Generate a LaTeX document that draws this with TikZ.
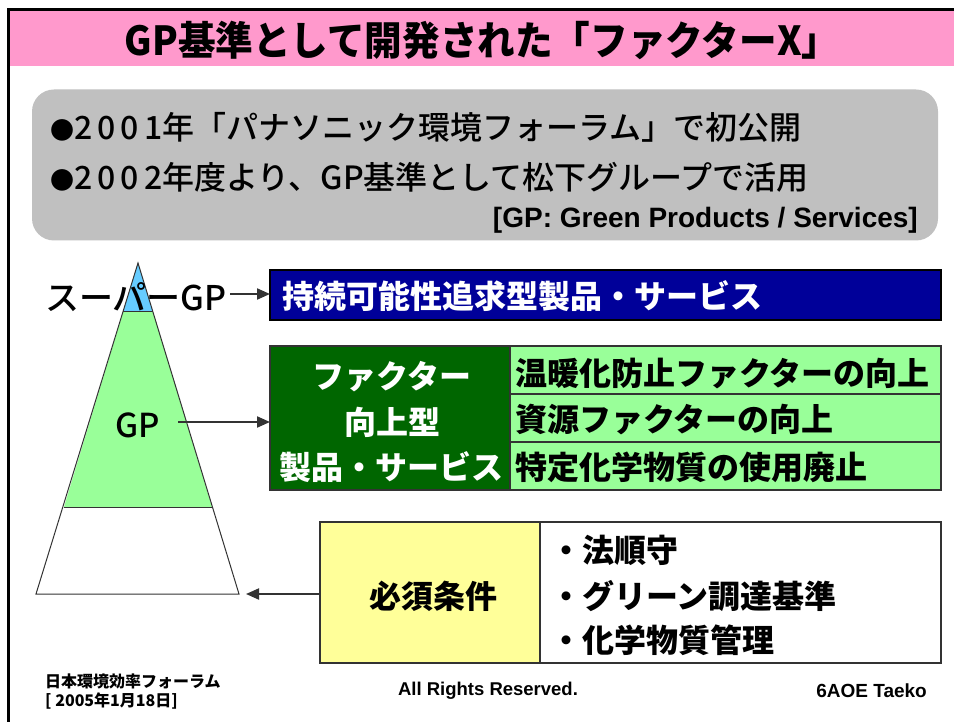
\documentclass[tikz,border=0pt]{standalone}
\usepackage{fontspec}
\setmainfont{Noto Sans CJK JP}
\newfontfamily\lat{Liberation Sans}
\newfontfamily\medjp{Noto Sans CJK JP Medium}
\newfontfamily\wdig[LetterSpace=16]{Noto Sans CJK JP Medium}
\usetikzlibrary{arrows.meta}
\definecolor{pinkbar}{HTML}{FF99CC}
\definecolor{graybox}{HTML}{C0C0C0}
\definecolor{navyfill}{HTML}{000099}
\definecolor{darkgreen}{HTML}{006600}
\definecolor{lightgreen}{HTML}{99FF99}
\definecolor{skyblue}{HTML}{66CCFF}
\definecolor{paleyellow}{HTML}{FFFF99}
\definecolor{edgegray}{HTML}{333333}
\newcommand{\bul}{{\fontsize{24}{24}\selectfont ●}}
\tikzset{
  cell/.style={draw=edgegray, line width=1.3pt, inner sep=0pt, outer sep=0pt},
  bigtxt/.style={font=\bfseries\fontsize{32}{32}\selectfont, inner sep=0pt},
  graytxt/.style={font=\medjp\fontsize{32}{32}\selectfont, inner sep=0pt},
  conn/.style={draw=edgegray, line width=2pt, -{Triangle[length=13pt,width=11pt]}},
  pyr/.style={draw=edgegray, line width=1pt},
}
\begin{document}
\begin{tikzpicture}[x=1pt,y=-1pt]
\useasboundingbox (0,0) rectangle (954,722);
\fill[white] (0,0) rectangle (954,722);
% title bar
\fill[pinkbar] (8,11) rectangle (954,66);
\draw[black, line width=3pt] (8,722) -- (8,10) -- (954,10);
\node[font=\bfseries\fontsize{40}{40}\selectfont, inner sep=0pt, xscale=0.94] (title) at (482,40) {GP基準として開発された「ファクターX」};
% gray box
\node[fill=graybox, rounded corners=22pt, minimum width=906pt, minimum height=151pt, inner sep=0pt] (info) at (485,165) {};
\node[graytxt, anchor=west] (l1) at (50,127) {\bul{\wdig 2001}年「パナソニック環境フォーラム」で初公開};
\node[graytxt, anchor=west] (l2) at (50,177) {\bul{\wdig 2002}年度より、GP基準として松下グループで活用};
\node[font=\lat\bfseries\fontsize{28}{28}\selectfont, inner sep=0pt, anchor=east] (gpdef) at (918,220) {[GP: Green Products / Services]};
% pyramid
\fill[white] (36,594) -- (239,594) -- (212,507) -- (64,507) -- cycle;
\fill[lightgreen] (64,507) -- (212,507) -- (153,312) -- (123,312) -- cycle;
\fill[skyblue] (123,312) -- (153,312) -- (138,263) -- cycle;
\draw[pyr] (36,594) -- (138,263) -- (239,594) -- cycle;
\draw[pyr] (64,507) -- (212,507);
\draw[pyr] (123,312) -- (153,312);
\coordinate (base) at (246,594);
% super GP
\node[font=\medjp\fontsize{34}{34}\selectfont, inner sep=0pt, anchor=east] (sgp) at (227,297) {スーパーGP};
\node[cell, draw=black, fill=navyfill, minimum width=671pt, minimum height=50pt] (blue) at (605.5,295) {};
\node[bigtxt, text=white, anchor=west] (bluetxt) at (282,296) {持続可能性追求型製品・サービス};
\coordinate (sgpstart) at (230,294);
\draw[conn] (sgpstart) -- (blue.west |- sgpstart);
% GP table
\node[cell, fill=darkgreen, minimum width=240pt, minimum height=144pt] (fac) at (390,418) {};
\node[cell, fill=lightgreen, minimum width=431pt, minimum height=48pt] (r1) at (725.5,370) {};
\node[cell, fill=lightgreen, minimum width=431pt, minimum height=48pt] (r2) at (725.5,418) {};
\node[cell, fill=lightgreen, minimum width=431pt, minimum height=48pt] (r3) at (725.5,466) {};
\node[bigtxt, text=white] (f1) at (392,377) {ファクター};
\node[bigtxt, text=white] (f2) at (392,422) {向上型};
\node[bigtxt, text=white] (f3) at (391,467) {製品・サービス};
\node[bigtxt, anchor=west] (t1) at (515,374) {温暖化防止ファクターの向上};
\node[bigtxt, anchor=west] (t2) at (515,420) {資源ファクターの向上};
\node[bigtxt, anchor=west] (t3) at (515,467) {特定化学物質の使用廃止};
\node[font=\medjp\fontsize{33}{33}\selectfont, inner sep=0pt] (gp) at (138,425) {GP};
\coordinate (gpstart) at (178,422);
\draw[conn] (gpstart) -- (fac.west |- gpstart);
% requirements
\node[cell, fill=paleyellow, minimum width=220pt, minimum height=141pt] (req) at (430,592.5) {};
\node[cell, fill=white, minimum width=401pt, minimum height=141pt] (reql) at (740.5,592.5) {};
\node[bigtxt] (reqt) at (433,596) {必須条件};
\node[bigtxt, anchor=west] (q1) at (550,550) {・法順守};
\node[bigtxt, anchor=west] (q2) at (550,596) {・グリーン調達基準};
\node[bigtxt, anchor=west] (q3) at (550,640) {・化学物質管理};
\draw[conn] (req.west |- base) -- (base);
% footer
\node[font=\bfseries\fontsize{16}{16}\selectfont, inner sep=0pt, anchor=west] (ft1) at (45,681) {日本環境効率フォーラム};
\node[font=\bfseries\fontsize{16}{16}\selectfont, inner sep=0pt, anchor=west] (ft2) at (45,701) {[ 2005年1月18日]};
\node[font=\lat\bfseries\fontsize{18.5}{18.5}\selectfont, inner sep=0pt] (ft3) at (488,691) {All Rights Reserved.};
\node[font=\lat\bfseries\fontsize{19}{19}\selectfont, inner sep=0pt, anchor=east] (ft4) at (927,691) {6AOE Taeko};
\end{tikzpicture}
\end{document}
